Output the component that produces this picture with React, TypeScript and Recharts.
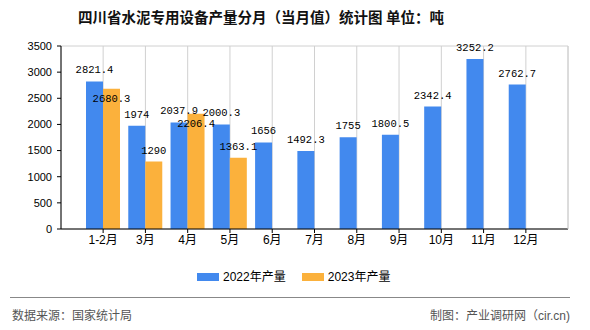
import React from "react";
import {
  BarChart, Bar, XAxis, YAxis, CartesianGrid, LabelList,
} from "recharts";

// ── Data ────────────────────────────────────────────────────────────────────
const MONTHS = ["1-2月", "3月", "4月", "5月", "6月", "7月", "8月", "9月", "10月", "11月", "12月"];
const OUTPUT_2022 = [2821.4, 1974, 2037.9, 2000.3, 1656, 1492.3, 1755, 1800.5, 2342.4, 3252.2, 2762.7];
const OUTPUT_2023: (number | null)[] = [2680.3, 1290, 2206.4, 1363.1, null, null, null, null, null, null, null];
const Y_TICKS = [0, 500, 1000, 1500, 2000, 2500, 3000, 3500];

const rows = MONTHS.map((m, i) => ({ m, a: OUTPUT_2022[i], b: OUTPUT_2023[i] }));

const BLUE = "#4289ee";
const ORANGE = "#fbb13c";
const GRID = "#d0d0d0";
const LABEL_FONT = "'Liberation Mono', 'DejaVu Sans Mono', monospace";
const CJK = "'Liberation Sans', 'Noto Sans CJK SC', sans-serif";

// ── Labels ──────────────────────────────────────────────────────────────────
const topLabel = (p: any) => {
  if (p.value == null) return null;
  return (
    <text x={p.x + p.width / 2} y={p.y - 8} textAnchor="middle"
      fontSize={10.5} fontFamily={LABEL_FONT} fill="#000">
      {p.value}
    </text>
  );
};

// 2023 label drops under the bar top when it would collide with the 2022 one
const label2023 = (p: any) => {
  if (p.value == null) return null;
  const i = OUTPUT_2023.indexOf(p.value);
  const near = i >= 0 && Math.abs(OUTPUT_2022[i] - p.value) < 300;
  return (
    <text x={p.x + p.width / 2} y={near ? p.y + 13 : p.y - 8} textAnchor="middle"
      fontSize={10.5} fontFamily={LABEL_FONT} fill="#000">
      {p.value}
    </text>
  );
};

export default function App() {
  return (
    <div style={{ position: "absolute", left: 0, top: 0, width: 590, height: 330, background: "#fff", fontFamily: CJK }}>
      {/* ── Title ── */}
      <div style={{
        position: "absolute", left: 0, top: 8, width: 522, textAlign: "center",
        fontSize: 14.5, fontWeight: 600, color: "#111", fontFamily: "'Noto Sans CJK SC', sans-serif",
        lineHeight: "18px", whiteSpace: "nowrap",
      }}>
        四川省水泥专用设备产量分月（当月值）统计图 单位：吨
      </div>

      {/* ── Chart ── */}
      <div style={{ position: "absolute", left: 0, top: 0 }}>
        <BarChart width={590} height={250} data={rows} barSize={17} barGap={0}
          margin={{ top: 46, right: 0, left: 0, bottom: 0 }}>
          <CartesianGrid stroke={GRID} />
          <XAxis
            dataKey="m"
            padding={{ left: 21, right: 21 }}
            height={21}
            tick={{ fontSize: 12, fill: "#000", fontFamily: CJK }}
            tickSize={4}
            tickLine={{ stroke: "#000" }}
            axisLine={{ stroke: "#000" }}
            interval={0}
          />
          <YAxis
            yAxisId="l"
            width={61}
            domain={[0, 3500]}
            ticks={Y_TICKS}
            tick={{ fontSize: 11, fill: "#000", fontFamily: "'Liberation Sans', sans-serif" }}
            tickSize={4}
            tickMargin={5}
            tickLine={{ stroke: "#000" }}
            axisLine={{ stroke: "#000" }}
          />
          <YAxis
            yAxisId="r"
            orientation="right"
            width={22}
            domain={[0, 3500]}
            tick={false}
            tickLine={false}
            axisLine={{ stroke: GRID }}
          />
          <Bar yAxisId="l" dataKey="a" fill={BLUE} isAnimationActive={false}>
            <LabelList dataKey="a" content={topLabel} />
          </Bar>
          <Bar yAxisId="l" dataKey="b" fill={ORANGE} isAnimationActive={false}>
            <LabelList dataKey="b" content={label2023} />
          </Bar>
        </BarChart>
      </div>

      {/* ── Legend ── */}
      <div style={{ position: "absolute", top: 269, left: 197, display: "flex", alignItems: "center", fontSize: 12, color: "#000", lineHeight: "16px" }}>
        <span style={{ width: 22, height: 8, background: BLUE, display: "inline-block", marginRight: 4 }} />
        <span>2022年产量</span>
        <span style={{ width: 22, height: 8, background: ORANGE, display: "inline-block", marginLeft: 16, marginRight: 4 }} />
        <span>2023年产量</span>
      </div>

      {/* ── Footer ── */}
      <div style={{ position: "absolute", left: 10, top: 297, width: 560, height: 1, background: "#888" }} />
      <div style={{ position: "absolute", left: 12, top: 308, fontSize: 12, color: "#555", lineHeight: "16px" }}>
        数据来源：国家统计局
      </div>
      <div style={{ position: "absolute", right: 20, top: 308, fontSize: 12, color: "#555", lineHeight: "16px", whiteSpace: "nowrap" }}>
        制图：产业调研网（cir.cn)
      </div>
    </div>
  );
}
